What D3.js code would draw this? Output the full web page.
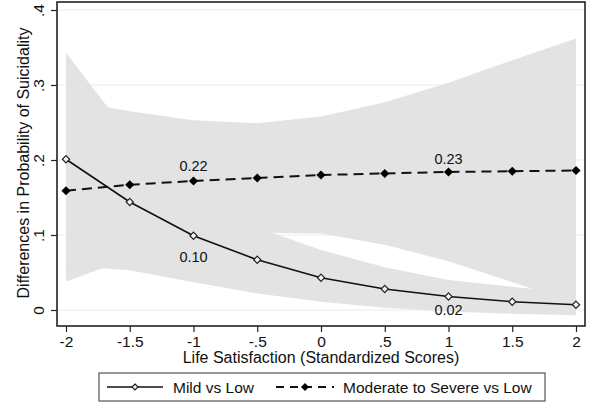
<!DOCTYPE html>
<html>
<head>
<meta charset="utf-8">
<script src="https://cdn.jsdelivr.net/npm/d3@7"></script>
<style>
  html, body { margin: 0; padding: 0; background: #fff; }
  svg { display: block; font-family: "Liberation Sans", Arial, Helvetica, sans-serif; }
</style>
</head>
<body>
<svg id="chart" width="591" height="409"></svg>
<script>
// ---- data ----
const xValues = [-2, -1.5, -1, -0.5, 0, 0.5, 1, 1.5, 2];
const mildEst = [0.201, 0.144, 0.099, 0.067, 0.043, 0.028, 0.018, 0.011, 0.007];
const mildLower = [0.059, 0.053, 0.037, 0.022, 0.011, 0.003, -0.002, -0.005, -0.007];
const mildUpper = [0.343, 0.232, 0.161, 0.110, 0.080, 0.057, 0.040, 0.031, 0.022];
const modEst = [0.159, 0.167, 0.172, 0.176, 0.180, 0.182, 0.184, 0.185, 0.186];
const modLower = [0.038, 0.069, 0.091, 0.103, 0.102, 0.087, 0.065, 0.037, 0.010];
const modUpper = [0.280, 0.265, 0.253, 0.249, 0.258, 0.277, 0.303, 0.333, 0.362];
const xTicks = [-2, -1.5, -1, -0.5, 0, 0.5, 1, 1.5, 2];
const xTickLabels = ["-2", "-1.5", "-1", "-.5", "0", ".5", "1", "1.5", "2"];
const yTicks = [0, 0.1, 0.2, 0.3, 0.4];
const yTickLabels = ["0", ".1", ".2", ".3", ".4"];
const annotations = [
  { x: -1, value: 0.22, series: "mod", dy: -15 },
  { x: 1, value: 0.23, series: "mod", dy: -13 },
  { x: -1, value: 0.10, series: "mild", dy: 21 },
  { x: 1, value: 0.02, series: "mild", dy: 13 }
];
const seriesNames = ["Mild vs Low", "Moderate to Severe vs Low"];
const xTitle = "Life Satisfaction (Standardized Scores)";
const yTitle = "Differences in Probability of Suicidality";

// ---- layout ----
const frame = { left: 57, right: 585, top: 2, bottom: 326 };
const x = d3.scaleLinear().domain([-2, 2]).range([66, 576]);
const y = d3.scaleLinear().domain([0, 0.4]).range([310, 10]);
const fontFam = "Liberation Sans, Arial, sans-serif";

const svg = d3.select("#chart");
const g = svg.append("g");

// gridlines
g.selectAll("line.grid").data(yTicks).enter().append("line")
  .attr("x1", frame.left).attr("x2", frame.right)
  .attr("y1", d => y(d)).attr("y2", d => y(d))
  .attr("stroke", "#ececec").attr("stroke-width", 1.2);

const rows = xValues.map((xv, i) => ({
  x: xv, mild: mildEst[i], mLo: mildLower[i], mHi: mildUpper[i],
  mod: modEst[i], dLo: modLower[i], dHi: modUpper[i]
}));

const bandFill = "#e3e3e3";
g.append("path").datum(rows)
  .attr("d", d3.area().x(d => x(d.x)).y0(d => y(d.dLo)).y1(d => y(d.dHi)))
  .attr("fill", bandFill);
g.append("path").datum(rows)
  .attr("d", d3.area().x(d => x(d.x)).y0(d => y(d.mLo)).y1(d => y(d.mHi)))
  .attr("fill", bandFill);

// lines
g.append("path").datum(rows)
  .attr("d", d3.line().x(d => x(d.x)).y(d => y(d.mild)))
  .attr("fill", "none").attr("stroke", "#111").attr("stroke-width", 1.6);
g.append("path").datum(rows)
  .attr("d", d3.line().x(d => x(d.x)).y(d => y(d.mod)))
  .attr("fill", "none").attr("stroke", "#111").attr("stroke-width", 2)
  .attr("stroke-dasharray", "10,6");

const diamond = (s) => `M0,${-s}L${s},0L0,${s}L${-s},0Z`;

g.selectAll("path.mildpt").data(rows).enter().append("path")
  .attr("transform", d => `translate(${x(d.x)},${y(d.mild)})`)
  .attr("d", diamond(3.6)).attr("fill", "#f4f4f4").attr("stroke", "#222").attr("stroke-width", 1.2);
g.selectAll("path.modpt").data(rows).enter().append("path")
  .attr("transform", d => `translate(${x(d.x)},${y(d.mod)})`)
  .attr("d", diamond(4.6)).attr("fill", "#000");

// annotations
g.selectAll("text.ann").data(annotations).enter().append("text")
  .attr("x", d => x(d.x))
  .attr("y", d => y(rows.find(r => r.x === d.x)[d.series]) + d.dy)
  .attr("text-anchor", "middle").attr("dominant-baseline", "central")
  .attr("font-size", 14.5).attr("fill", "#111")
  .text(d => d.value.toFixed(2));

// frame
g.append("rect")
  .attr("x", frame.left).attr("y", frame.top)
  .attr("width", frame.right - frame.left).attr("height", frame.bottom - frame.top)
  .attr("fill", "none").attr("stroke", "#222").attr("stroke-width", 1.6);

// x axis
const xAxis = d3.axisBottom(x).tickValues(xTicks).tickSize(6).tickPadding(4)
  .tickFormat((d, i) => xTickLabels[i]);
const xa = g.append("g").attr("transform", `translate(0,${frame.bottom})`).call(xAxis);
xa.select(".domain").remove();
xa.selectAll(".tick line").attr("stroke", "#222").attr("stroke-width", 1.2);
xa.selectAll(".tick text").attr("font-size", 15.5).attr("fill", "#111")
  .attr("font-family", fontFam);

// y axis
const yAxis = d3.axisLeft(y).tickValues(yTicks).tickSize(6).tickPadding(0)
  .tickFormat((d, i) => yTickLabels[i]);
const ya = g.append("g").attr("transform", `translate(${frame.left},0)`).call(yAxis);
ya.select(".domain").remove();
ya.selectAll(".tick line").attr("stroke", "#222").attr("stroke-width", 1.2);
ya.selectAll(".tick text")
  .attr("x", null).attr("dy", null)
  .attr("text-anchor", "middle").attr("dominant-baseline", "central")
  .attr("transform", "translate(-19,0) rotate(-90)")
  .attr("font-size", 15.5).attr("fill", "#111")
  .attr("font-family", fontFam);

// titles
g.append("text").attr("x", (frame.left + frame.right) / 2).attr("y", 363)
  .attr("text-anchor", "middle").attr("font-size", 16).attr("fill", "#111").text(xTitle);
g.append("text")
  .attr("transform", `translate(23,${(frame.top + frame.bottom) / 2 - 1}) rotate(-90)`)
  .attr("text-anchor", "middle").attr("dominant-baseline", "central")
  .attr("font-size", 16).attr("fill", "#111").text(yTitle);

// legend
const lg = g.append("g");
lg.append("rect").attr("x", 99).attr("y", 373).attr("width", 446).attr("height", 28)
  .attr("fill", "#fff").attr("stroke", "#555").attr("stroke-width", 1.2);
const ly = 387;
lg.append("line").attr("x1", 107).attr("x2", 163).attr("y1", ly).attr("y2", ly)
  .attr("stroke", "#111").attr("stroke-width", 1.6);
lg.append("path").attr("transform", `translate(135,${ly})`).attr("d", diamond(3))
  .attr("fill", "#f4f4f4").attr("stroke", "#222").attr("stroke-width", 1.2);
lg.append("text").attr("x", 173).attr("y", ly).attr("dominant-baseline", "central")
  .attr("font-size", 15.5).attr("fill", "#111").text(seriesNames[0]);
lg.append("line").attr("x1", 276).attr("x2", 334).attr("y1", ly).attr("y2", ly)
  .attr("stroke", "#111").attr("stroke-width", 2).attr("stroke-dasharray", "8,6");
lg.append("path").attr("transform", `translate(305,${ly})`).attr("d", diamond(4))
  .attr("fill", "#000");
lg.append("text").attr("x", 343).attr("y", ly).attr("dominant-baseline", "central")
  .attr("font-size", 15.5).attr("fill", "#111").text(seriesNames[1]);
</script>
</body>
</html>
